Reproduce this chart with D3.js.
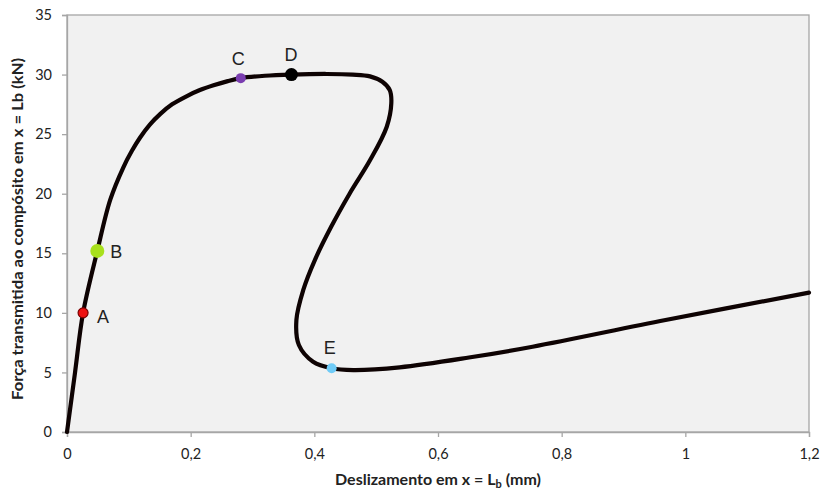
<!DOCTYPE html>
<html>
<head>
<meta charset="utf-8">
<script src="https://cdn.jsdelivr.net/npm/d3@7"></script>
<style>
  html, body { margin: 0; padding: 0; background: #ffffff; }
  svg { display: block; }
</style>
</head>
<body>
<svg id="chart" width="823" height="496"></svg>
<script>
// Load–slip curve: slip at x = Lb (mm) vs transmitted force (kN)
const slip  = [0, 0.013, 0.026, 0.049, 0.070, 0.091, 0.105, 0.118, 0.134, 0.151, 0.170, 0.194, 0.215, 0.237, 0.260, 0.281, 0.320, 0.363, 0.420, 0.462, 0.490, 0.510, 0.522, 0.5245, 0.517, 0.490, 0.457, 0.427, 0.401, 0.382, 0.371, 0.375, 0.398, 0.428, 0.463, 0.538, 0.650, 0.753, 0.968, 1.200];
const force = [0, 5.0, 10.0, 15.2, 19.5, 22.2, 23.6, 24.7, 25.8, 26.7, 27.5, 28.2, 28.7, 29.1, 29.45, 29.7, 29.9, 30.0, 30.05, 30.0, 29.85, 29.4, 28.7, 27.6, 25.6, 22.8, 20.0, 17.2, 14.45, 11.9, 9.4, 7.3, 5.9, 5.35, 5.2, 5.43, 6.25, 7.16, 9.4, 11.7];

// Highlighted points on the curve
const pointNames  = ["A", "B", "C", "D", "E"];
const pointSlip   = [0.026, 0.049, 0.281, 0.363, 0.428];
const pointForce  = [10.0, 15.2, 29.7, 30.0, 5.35];
const pointColors = ["#ee1111", "#a8e01c", "#7a3db0", "#000000", "#6fcbf7"];
const pointRadius = [5, 7, 5, 6.5, 5];

// Axis ticks
const xTicks = [0, 0.2, 0.4, 0.6, 0.8, 1, 1.2];
const yTicks = [0, 5, 10, 15, 20, 25, 30, 35];

const svg = d3.select("#chart");
const m = { left: 67, right: 14, top: 15, bottom: 64 };
const W = 823, H = 496;
const pw = W - m.left - m.right, ph = H - m.top - m.bottom;

const x = d3.scaleLinear().domain([0, 1.2]).range([m.left, m.left + pw]);
const y = d3.scaleLinear().domain([0, 35]).range([m.top + ph, m.top]);

const fmt = v => String(v).replace(".", ",");
const tickFont = "Lato, 'Open Sans', sans-serif";

// Plot area background and frame
svg.append("rect")
  .attr("x", m.left).attr("y", m.top).attr("width", pw).attr("height", ph)
  .attr("fill", "#f1f1f1").attr("stroke", "#a6a6a6").attr("stroke-width", 1.3);

// Axes
const xAxis = svg.append("g")
  .attr("transform", `translate(0,${m.top + ph})`)
  .call(d3.axisBottom(x).tickValues(xTicks).tickFormat(fmt).tickSize(5).tickPadding(12));
const yAxis = svg.append("g")
  .attr("transform", `translate(${m.left},0)`)
  .call(d3.axisLeft(y).tickValues(yTicks).tickFormat(fmt).tickSize(5).tickPadding(10));

[xAxis, yAxis].forEach(g => {
  g.select(".domain").attr("stroke", "#a6a6a6").attr("stroke-width", 1.3);
  g.selectAll(".tick line").attr("stroke", "#a6a6a6").attr("stroke-width", 1.3);
  g.selectAll(".tick text")
    .attr("fill", "#222").attr("font-family", tickFont).attr("font-size", 14.5);
});

// Curve
const line = d3.line()
  .x((d, i) => x(slip[i]))
  .y((d, i) => y(force[i]))
  .curve(d3.curveCatmullRom.alpha(0.5));

svg.append("path")
  .datum(slip)
  .attr("d", line)
  .attr("fill", "none")
  .attr("stroke", "#0e0303")
  .attr("stroke-width", 4.2)
  .attr("stroke-linejoin", "round")
  .attr("stroke-linecap", "round");

// Marked points
svg.selectAll("circle.pt")
  .data(pointNames)
  .join("circle")
  .attr("class", "pt")
  .attr("cx", (d, i) => x(pointSlip[i]))
  .attr("cy", (d, i) => y(pointForce[i]))
  .attr("r", (d, i) => pointRadius[i])
  .attr("fill", (d, i) => pointColors[i])
  .attr("stroke", (d, i) => i === 0 ? "#7a0000" : "none")
  .attr("stroke-width", 1.2);

// Point labels
const labelDx = [14, 13, -9, -7, -8];
const labelDy = [10, 7, -13, -14, -14];
svg.selectAll("text.pl")
  .data(pointNames)
  .join("text")
  .attr("class", "pl")
  .attr("x", (d, i) => x(pointSlip[i]) + labelDx[i])
  .attr("y", (d, i) => y(pointForce[i]) + labelDy[i])
  .attr("font-family", "'Liberation Sans', Arial, sans-serif")
  .attr("font-size", 18)
  .attr("fill", "#222")
  .text(d => d);

// Axis titles
const xTitle = svg.append("text")
  .attr("x", m.left + pw / 2)
  .attr("y", 485)
  .attr("text-anchor", "middle")
  .attr("font-family", tickFont)
  .attr("font-weight", "bold")
  .attr("font-size", 16)
  .attr("fill", "#222");
xTitle.append("tspan").text("Deslizamento em x = L");
xTitle.append("tspan").attr("font-size", 11).attr("dy", 3).text("b");
xTitle.append("tspan").attr("dy", -3).text(" (mm)");

svg.append("text")
  .attr("transform", `translate(23,229) rotate(-90)`)
  .attr("text-anchor", "middle")
  .attr("font-family", tickFont)
  .attr("font-weight", "bold")
  .attr("font-size", 15.5)
  .attr("textLength", 342)
  .attr("lengthAdjust", "spacingAndGlyphs")
  .attr("fill", "#222")
  .text("Força transmitida ao compósito em x = Lb (kN)");
</script>
</body>
</html>
